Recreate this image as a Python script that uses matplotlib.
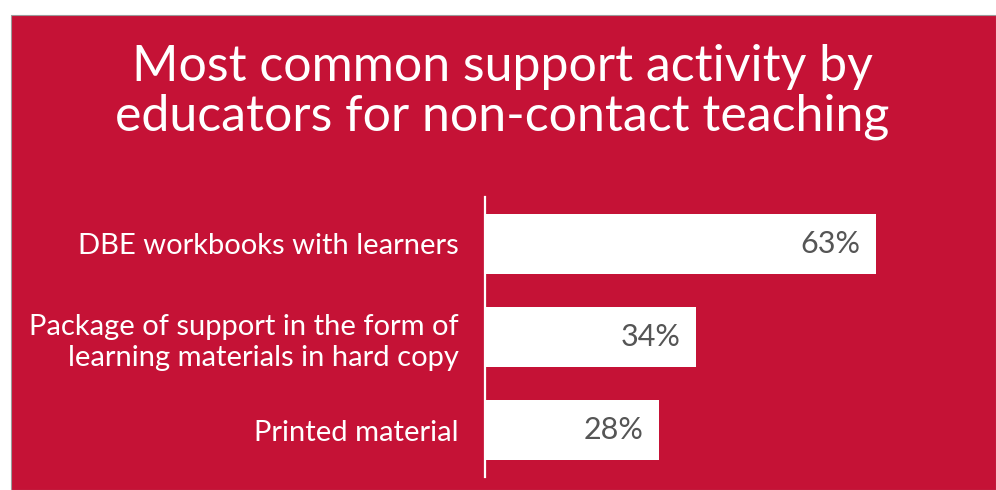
import matplotlib.pyplot as plt
from matplotlib.patches import Rectangle

categories = ['DBE workbooks with learners',
              'Package of support in the form of\nlearning materials in hard copy',
              'Printed material']
values = [63, 34, 28]
value_labels = ['63%', '34%', '28%']

title = 'Most common support activity by\neducators for non-contact teaching'

red = '#C51236'
W, H = 996, 490

plt.rcParams['font.family'] = ['Lato', 'DejaVu Sans']

fig = plt.figure(figsize=(W / 100, H / 100), dpi=100, facecolor='white')

# red panel behind everything
fig.patches.append(Rectangle((11 / W, 0), 1 - 11 / W, 1 - 15 / H,
                             transform=fig.transFigure, facecolor=red,
                             edgecolor='#9a9a9a', linewidth=0.8, zorder=-5))

fig.text(502 / W, 1 - 92 / H, title, ha='center', va='center',
         color='white', fontsize=36, linespacing=1.12)

# axes in pixel units: left spine at x=485, spans y 197..477
ax = fig.add_axes([485 / W, 1 - 477 / H, (W - 485) / W, 280 / H])
ax.patch.set_visible(False)
pos = list(range(len(values)))
ax.barh(pos, values, height=0.64, color='white', zorder=2)
ax.set_ylim(2.5, -0.5)
ax.set_xlim(0, (W - 485) / 6.2)

for s in ['top', 'right', 'bottom']:
    ax.spines[s].set_visible(False)
ax.spines['left'].set_color('white')
ax.spines['left'].set_linewidth(1.6)

ax.set_xticks([])
ax.set_yticks(pos)
ax.set_yticklabels(categories, color='white', fontsize=21, linespacing=1.25)
ax.tick_params(axis='y', length=0, pad=19)

for p, v, lab in zip(pos, values, value_labels):
    ax.annotate(lab, (v, p), xytext=(-11, 0), textcoords='offset points',
                ha='right', va='center', color='#555555', fontsize=22, zorder=3)

fig.savefig('out.png', dpi=100, facecolor='white')
